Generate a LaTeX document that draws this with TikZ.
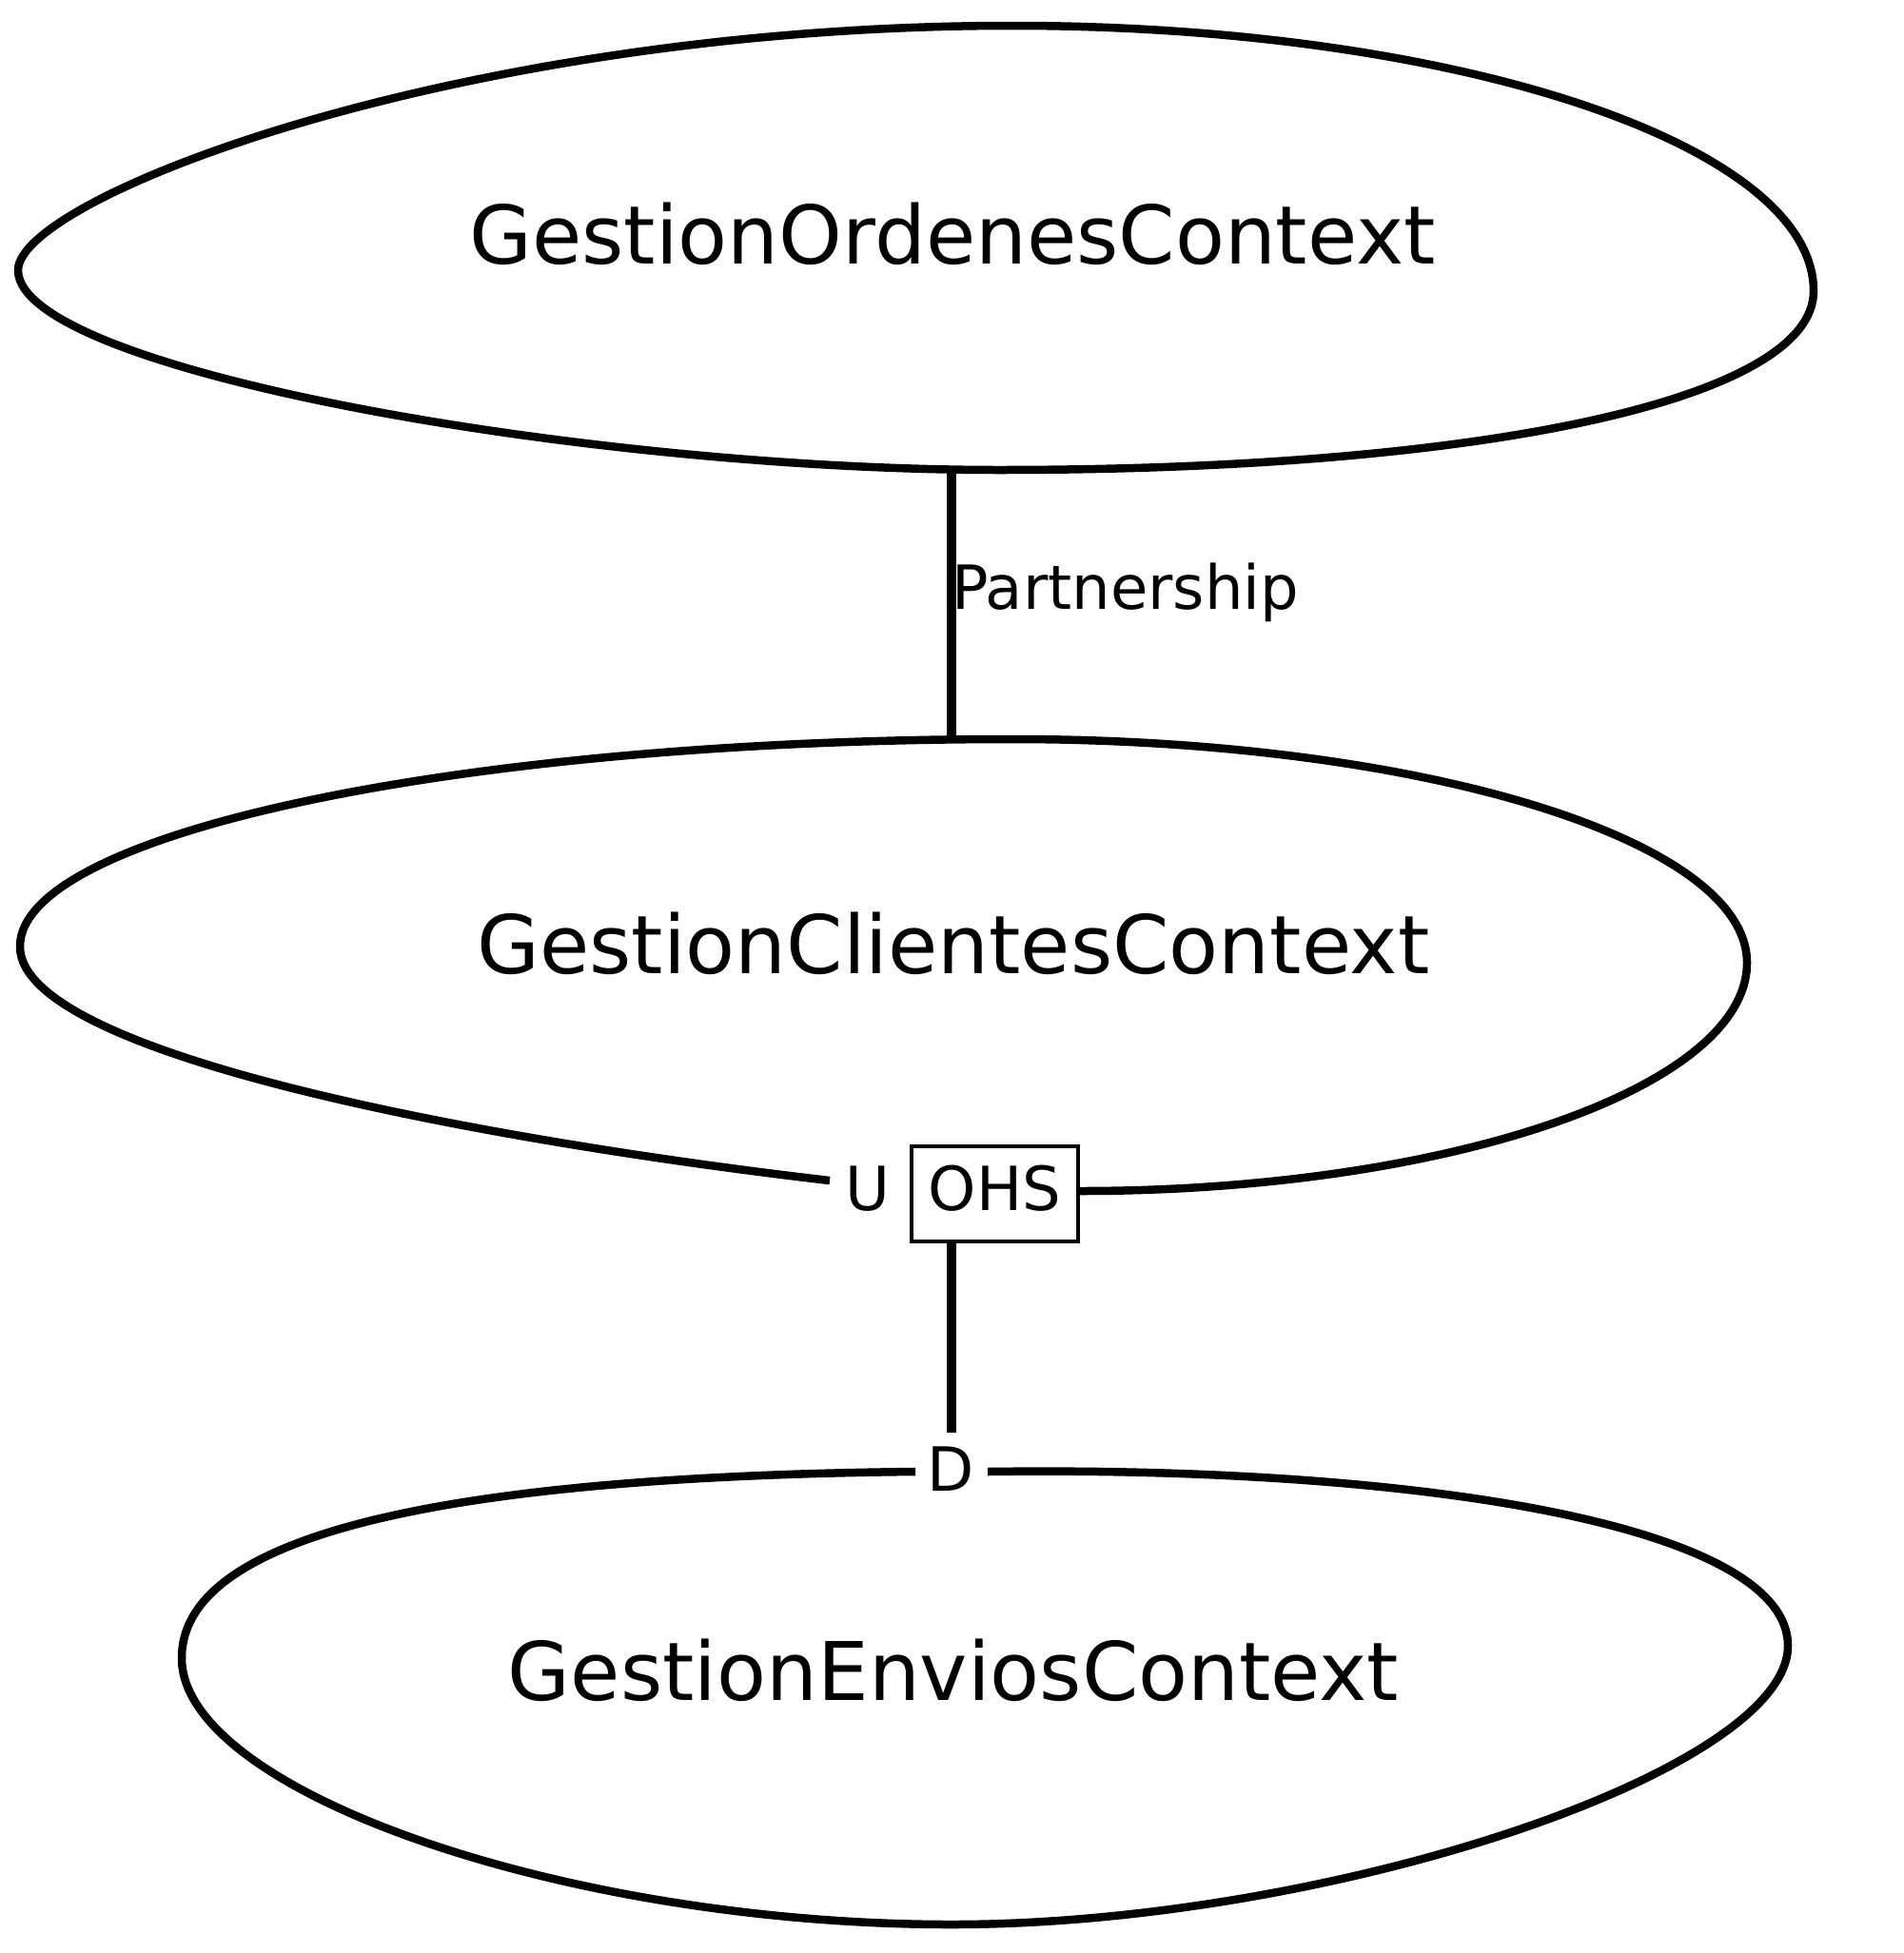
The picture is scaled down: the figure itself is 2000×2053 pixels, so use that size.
\documentclass[tikz,border=0pt]{standalone}
\usepackage{fontspec}
\setmainfont{DejaVu Sans}
\begin{document}
\begin{tikzpicture}[x=1pt,y=-1pt,
  ctxline/.style={line width=8.5pt, line join=round},
  edgeline/.style={line width=9.5pt},
  bigtxt/.style={font=\fontsize{85}{100}\selectfont, inner sep=0pt, anchor=base},
  smalltxt/.style={font=\fontsize{64}{76}\selectfont, inner sep=0pt, anchor=base},
  ohsbox/.style={draw, line width=4pt, minimum width=175pt, minimum height=100pt,
    inner sep=0pt, text height=50pt, text depth=16pt, font=\fontsize{64}{76}\selectfont}]
\useasboundingbox (0,0) rectangle (2000,2053);

% --- GestionOrdenesContext (closed outline)
\draw[ctxline] (1064,27) .. controls (1529,27) and (1906,152) .. (1906,306)
  .. controls (1906,419) and (1564,494) .. (1050,494)
  .. controls (617,494) and (19,389) .. (19,284)
  .. controls (19,207) and (487,27) .. (1064,27) -- cycle;
\node[bigtxt] (ord) at (1001,277) {GestionOrdenesContext};

% --- GestionClientesContext (open outline, ends at U and OHS)
\node[ohsbox] (ohs) at (1045.5,1255) {OHS};
\coordinate (cliU) at (872,1241);
\draw[ctxline] (ohs.east |- 0,1252) .. controls (1520,1252) and (1836,1144) .. (1836,1012)
  .. controls (1836,882) and (1490,777) .. (1064,777)
  .. controls (488,777) and (21,875) .. (21,995)
  .. controls (21,1110) and (520,1200) .. (cliU);
\node[bigtxt] (cli) at (1002,1023) {GestionClientesContext};

% --- GestionEnviosContext (open outline, ends at D)
\coordinate (envL) at (962,1547);
\coordinate (envR) at (1038,1547);
\draw[ctxline] (envR) .. controls (1500,1541) and (1879,1605) .. (1879,1730)
  .. controls (1879,1862) and (1396,2023) .. (1000,2023)
  .. controls (595,2023) and (191,1883) .. (191,1743)
  .. controls (191,1610) and (480,1552) .. (envL);
\node[bigtxt] (env) at (1002,1787) {GestionEnviosContext};

% --- Partnership connector
\coordinate (ordB) at (1000,494);
\coordinate (cliT) at (1000,777);
\draw[edgeline] (ordB) -- (cliT);
\node[smalltxt, anchor=base west] (partlbl) at (1000,640) {Partnership};

% --- Upstream / downstream connector
\node[smalltxt] (ulbl) at (911.5,1272) {U};
\coordinate (envT) at (1000,1506);
\draw[edgeline] (ohs.south -| envT) -- (envT);
\node[smalltxt] (dlbl) at (999,1567) {D};
\end{tikzpicture}
\end{document}
